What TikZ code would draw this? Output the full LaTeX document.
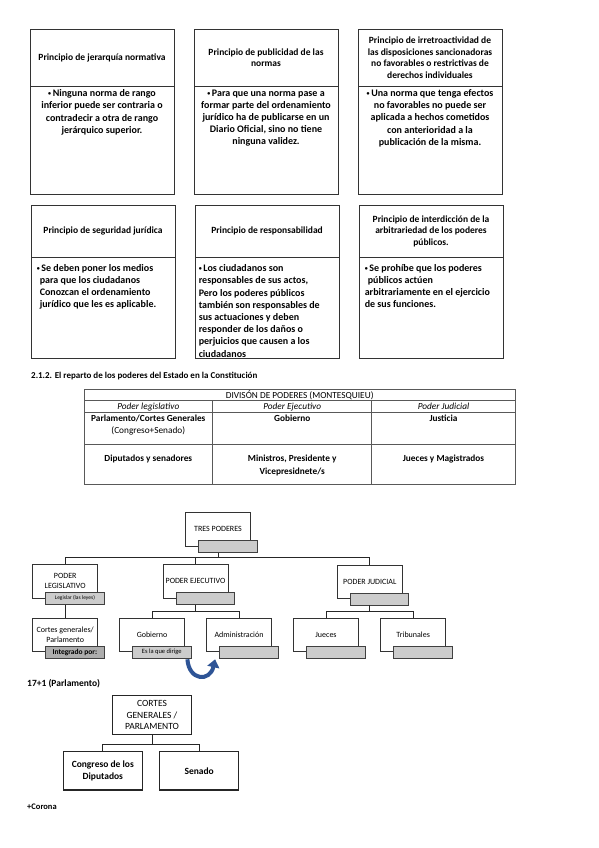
\documentclass[tikz,border=0pt]{standalone}
\usepackage{fontspec}
\setmainfont{Carlito}
\usetikzlibrary{arrows.meta}
\definecolor{arrowblue}{RGB}{46,84,150}
\definecolor{labgray}{RGB}{204,204,204}
\newcommand{\mybul}{\raisebox{0.8pt}{\fontsize{6}{6}\selectfont•}\,}
\begin{document}
\begin{tikzpicture}[x=1pt,y=-1pt,
  pbox/.style={draw=black!80, line width=0.8pt, inner sep=0pt, minimum width=144pt},
  ptitle/.style={pbox, align=center, font=\fontsize{9.5}{11.5}\selectfont\bfseries},
  pbody/.style={pbox, anchor=north},
  btext/.style={inner sep=0pt, align=center, anchor=north, font=\fontsize{10}{12.2}\selectfont\bfseries},
  btextl/.style={btext, align=left, anchor=north west},
  tline/.style={draw=black!65, line width=0.6pt},
  ttext/.style={inner sep=0pt, font=\fontsize{9.3}{12.4}\selectfont, align=center},
  tbox/.style={draw=black!80, line width=0.8pt, fill=white, minimum width=65pt, minimum height=33.5pt, inner sep=1pt, align=center, font=\fontsize{8}{10}\selectfont},
  glab/.style={draw=black!75, line width=0.8pt, fill=labgray, minimum width=58.5pt, minimum height=11.5pt, inner sep=0pt, font=\fontsize{5.5}{6}\selectfont},
  conn/.style={draw=black!85, line width=0.8pt},
  cbox/.style={draw=black!85, line width=1.1pt, fill=white, minimum width=79pt, minimum height=38.4pt, inner sep=1pt, align=center, font=\fontsize{9.5}{11.3}\selectfont},
  plain/.style={inner sep=0pt, anchor=west, font=\fontsize{8.5}{10}\selectfont\bfseries}
]
\useasboundingbox (0,0) rectangle (599,848);
\fill[white] (0,0) rectangle (599,848);

% ---------- row 1 of principle boxes
\node[ptitle, minimum height=57pt] (t1) at (102,57.5) {Principio de jerarquía normativa};
\node[pbody, minimum height=108pt] (b1) at (t1.south) {};
\node[btext] (x1) at ([yshift=-3pt]b1.north) {\mybul Ninguna norma de rango\\inferior puede ser contraria o\\contradecir a otra de rango\\jerárquico superior.};

\node[ptitle, minimum height=57pt] (t2) at (266,57.5) {Principio de publicidad de las\\normas};
\node[pbody, minimum height=108pt] (b2) at (t2.south) {};
\node[btext] (x2) at ([yshift=-3pt]b2.north) {\mybul Para que una norma pase a\\formar parte del ordenamiento\\jurídico ha de publicarse en un\\Diario Oficial, sino no tiene\\ninguna validez.};

\node[ptitle, minimum height=57pt] (t3) at (430,57.5) {Principio de irretroactividad de\\las disposiciones sancionadoras\\no favorables o restrictivas de\\derechos individuales};
\node[pbody, minimum height=108pt] (b3) at (t3.south) {};
\node[btext] (x3) at ([yshift=-3pt]b3.north) {\mybul Una norma que tenga efectos\\no favorables no puede ser\\aplicada a hechos cometidos\\con anterioridad a la\\publicación de la misma.};

% ---------- row 2 of principle boxes
\node[ptitle, minimum height=52pt] (t4) at (103,231) {Principio de seguridad jurídica};
\node[pbody, minimum height=101pt] (b4) at (t4.south) {};
\node[btextl] (x4) at ([xshift=6pt,yshift=-6.5pt]b4.north west) {\mybul Se deben poner los medios\\\hspace*{3pt}para que los ciudadanos\\\hspace*{3pt}Conozcan el ordenamiento\\\hspace*{3pt}jurídico que les es aplicable.};

\node[ptitle, minimum height=52pt] (t5) at (267,231) {Principio de responsabilidad};
\node[pbody, minimum height=101pt] (b5) at (t5.south) {};
\node[btextl] (x5) at ([xshift=4pt,yshift=-7pt]b5.north west) {\mybul Los ciudadanos son\\responsables de sus actos,\\Pero los poderes públicos\\también son responsables de\\sus actuaciones y deben\\responder de los daños o\\perjuicios que causen a los\\ciudadanos};

\node[ptitle, minimum height=52pt] (t6) at (431,231) {Principio de interdicción de la\\arbitrariedad de los poderes\\públicos.};
\node[pbody, minimum height=101pt] (b6) at (t6.south) {};
\node[btextl] (x6) at ([xshift=6pt,yshift=-6.5pt]b6.north west) {\mybul Se prohíbe que los poderes\\\hspace*{3pt}públicos actúen\\arbitrariamente en el ejercicio\\de sus funciones.};

% ---------- heading
\node[plain, font=\fontsize{9}{10}\selectfont\bfseries] (h1) at (31,376) {2.1.2. El reparto de los poderes del Estado en la Constitución};

% ---------- table
\draw[tline] (84,389.3) rectangle (515.3,484);
\draw[tline] (84,400.7) -- (515.3,400.7);
\draw[tline] (84,412.3) -- (515.3,412.3);
\draw[tline] (84,444.3) -- (515.3,444.3);
\draw[tline] (212.7,400.7) -- (212.7,484);
\draw[tline] (371.7,400.7) -- (371.7,484);
\node[ttext] (c0) at (299.7,395) {DIVISÓN DE PODERES (MONTESQUIEU)};
\node[ttext, font=\fontsize{9.3}{12}\selectfont\itshape] (c11) at (148.3,406.7) {Poder legislativo};
\node[ttext, font=\fontsize{9.3}{12}\selectfont\itshape] (c12) at (292.2,406.7) {Poder Ejecutivo};
\node[ttext, font=\fontsize{9.3}{12}\selectfont\itshape] (c13) at (443.5,406.7) {Poder Judicial};
\node[ttext, anchor=north] (c21) at (148.3,414.5) {\textbf{Parlamento/Cortes Generales}\\(Congreso+Senado)};
\node[ttext, anchor=north, font=\fontsize{9.3}{12.4}\selectfont\bfseries] (c22) at (292.2,414.5) {Gobierno};
\node[ttext, anchor=north, font=\fontsize{9.3}{12.4}\selectfont\bfseries] (c23) at (443.5,414.5) {Justicia};
\node[ttext, anchor=north, font=\fontsize{9.3}{12.4}\selectfont\bfseries] (c31) at (148.3,455.2) {Diputados y senadores};
\node[ttext, anchor=north, font=\fontsize{9.3}{12.4}\selectfont\bfseries] (c32) at (292.2,455.2) {Ministros, Presidente y\\Vicepresidnete/s};
\node[ttext, anchor=north, font=\fontsize{9.3}{12.4}\selectfont\bfseries] (c33) at (443.5,455.2) {Jueces y Magistrados};

% ---------- tree of powers
\node[tbox] (tres) at (218,529.3) {TRES PODERES};
\node[glab] (tresL) at ([xshift=9.75pt]tres.south) {};
\node[tbox] (leg) at (65.2,581.3) {PODER\\LEGISLATIVO};
\node[glab] (legL) at ([xshift=9.75pt]leg.south) {Legislar (las leyes)};
\node[tbox] (eje) at (195.5,581.3) {PODER EJECUTIVO};
\node[glab] (ejeL) at ([xshift=9.75pt]eje.south) {};
\node[tbox] (jud) at (369.8,582) {PODER JUDICIAL};
\node[glab] (judL) at ([xshift=9.75pt]jud.south) {};
\node[tbox] (cort) at (65.2,635) {Cortes generales/\\Parlamento};
\node[glab, fill=black!32, font=\fontsize{7.5}{8}\selectfont\bfseries] (cortL) at ([xshift=9.75pt]cort.south) {Integrado por:};
\node[tbox] (gob) at (152,635) {Gobierno};
\node[glab, font=\fontsize{6.5}{7}\selectfont] (gobL) at ([xshift=9.75pt]gob.south) {Es la que dirige};
\node[tbox] (adm) at (239,635) {Administración};
\node[glab] (admL) at ([xshift=9.75pt]adm.south) {};
\node[tbox] (jue) at (326,635) {Jueces};
\node[glab] (jueL) at ([xshift=9.75pt]jue.south) {};
\node[tbox] (tri) at (413.2,635) {Tribunales};
\node[glab] (triL) at ([xshift=9.75pt]tri.south) {};

\coordinate (bus1) at (0,557.7);
\coordinate (bus2) at (0,611);
\draw[conn] (tresL.south -| tres.center) -- (bus1 -| tres.center);
\draw[conn] (leg.north) -- (bus1 -| leg.north) -- (bus1 -| jud.north) -- (jud.north);
\draw[conn] (bus1 -| eje.north) -- (eje.north);
\draw[conn] (legL.south -| leg.center) -- (cort.north);
\draw[conn] (ejeL.south -| eje.center) -- (bus2 -| eje.center);
\draw[conn] (gob.north) -- (bus2 -| gob.north) -- (bus2 -| adm.north) -- (adm.north);
\draw[conn] (judL.south -| jud.center) -- (bus2 -| jud.center);
\draw[conn] (jue.north) -- (bus2 -| jue.north) -- (bus2 -| tri.north) -- (tri.north);

\draw[arrowblue, line width=4pt, -{Triangle[width=12pt,length=8pt]}]
  ([xshift=-4pt,yshift=-1pt]gobL.south east) .. controls (189,681) and (210,682) .. ([xshift=-4pt,yshift=-1pt]admL.south west);

\node[plain, font=\fontsize{9.5}{10}\selectfont\bfseries] (n17) at (27,684) {17+1 (Parlamento)};

% ---------- Cortes Generales tree
\node[cbox] (cg) at (152,715) {CORTES\\GENERALES /\\PARLAMENTO};
\node[cbox, font=\fontsize{9.5}{12.4}\selectfont\bfseries] (cong) at (102.8,770.8) {Congreso de los\\Diputados};
\node[cbox, font=\fontsize{9.5}{12.4}\selectfont\bfseries] (sen) at (199.2,770.8) {Senado};
\coordinate (bus3) at (0,744);
\draw[conn, line width=1pt] (cg.south) -- (bus3 -| cg.south);
\draw[conn, line width=1pt] (cong.north) -- (bus3 -| cong.north) -- (bus3 -| sen.north) -- (sen.north);

\node[plain, font=\fontsize{8.5}{10}\selectfont\bfseries] (cor) at (27,807) {+Corona};
\end{tikzpicture}
\end{document}
